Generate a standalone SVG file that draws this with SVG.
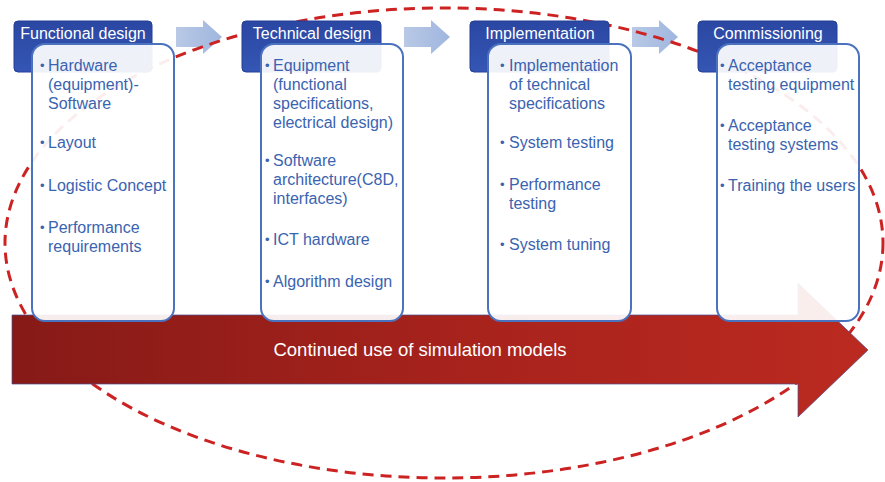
<svg xmlns="http://www.w3.org/2000/svg" width="885" height="482" viewBox="0 0 885 482">
<defs>
<linearGradient id="hdr" x1="0" y1="0" x2="0" y2="1"><stop offset="0" stop-color="#2a47a2"/><stop offset="1" stop-color="#3556b4"/></linearGradient>
<linearGradient id="blu" x1="0" y1="0" x2="1" y2="0"><stop offset="0" stop-color="#b9c9e6"/><stop offset="1" stop-color="#9fb6de"/></linearGradient>
<linearGradient id="red" x1="0" y1="0" x2="1" y2="0"><stop offset="0" stop-color="#861a17"/><stop offset="0.5" stop-color="#a6221c"/><stop offset="1" stop-color="#bb2a20"/></linearGradient>
<style>
.hdr{fill:url(#hdr);stroke:#243f98;stroke-width:1}
.hdrt{font-family:"Liberation Sans",Arial,sans-serif;font-size:16px;fill:#ffffff;text-anchor:middle}
.box{fill:#ffffff;fill-opacity:0.92;stroke:#4a72bf;stroke-width:2}
.t{font-family:"Liberation Sans",Arial,sans-serif;font-size:16px;fill:#3a63b0}
.b{font-family:"Liberation Sans",Arial,sans-serif;font-size:13px;fill:#3a63b0}
.arr{fill:url(#blu)}
</style>
</defs>
<rect width="885" height="482" fill="#ffffff"/>
<g id="connectors">
<path class="arr" d="M176,27 H203 V20 L222,37 L203,54 V47 H176 Z"/>
<path class="arr" d="M404,27 H431 V20 L450,37 L431,54 V47 H404 Z"/>
<path class="arr" d="M632,27 H659 V20 L678,37 L659,54 V47 H632 Z"/>
<ellipse id="loop" cx="444" cy="243" rx="439" ry="235" fill="none" stroke="#cc2222" stroke-width="3" stroke-dasharray="11 7"/>
<g id="simarrow">
<path d="M12,315 H798 V283 L868,350 L798,417 V384 H12 Z" fill="url(#red)" stroke="#4a4f8e" stroke-width="1" stroke-opacity="0.7"/>
<text x="420" y="356" font-family="Liberation Sans,Arial,sans-serif" font-size="18.5" fill="#ffffff" text-anchor="middle">Continued use of simulation models</text>
</g>
</g>
<g id="functional">
<rect class="hdr" x="14" y="21" width="138" height="51" rx="4"/>
<text class="hdrt" x="83" y="39">Functional design</text>
<rect class="box" x="32" y="44" width="142" height="277" rx="13"/>
<text class="b" x="40" y="70">•</text><text class="t" x="48" y="71">Hardware</text>
<text class="t" x="48" y="90">(equipment)-</text>
<text class="t" x="48" y="109">Software</text>
<text class="b" x="40" y="147">•</text><text class="t" x="48" y="148">Layout</text>
<text class="b" x="40" y="190">•</text><text class="t" x="48" y="191">Logistic Concept</text>
<text class="b" x="40" y="232">•</text><text class="t" x="48" y="233">Performance</text>
<text class="t" x="48" y="252">requirements</text>
</g>
<g id="technical">
<rect class="hdr" x="242" y="21" width="139" height="51" rx="4"/>
<text class="hdrt" x="312" y="39">Technical design</text>
<rect class="box" x="261" y="44" width="142" height="277" rx="13"/>
<text class="b" x="265" y="70">•</text><text class="t" x="273" y="71">Equipment</text>
<text class="t" x="273" y="90">(functional</text>
<text class="t" x="273" y="109">specifications,</text>
<text class="t" x="273" y="128">electrical design)</text>
<text class="b" x="265" y="165">•</text><text class="t" x="273" y="166">Software</text>
<text class="t" x="273" y="185">architecture(C8D,</text>
<text class="t" x="273" y="204">interfaces)</text>
<text class="b" x="265" y="244">•</text><text class="t" x="273" y="245">ICT hardware</text>
<text class="b" x="265" y="286">•</text><text class="t" x="273" y="287">Algorithm design</text>
</g>
<g id="implementation">
<rect class="hdr" x="470" y="21" width="139" height="51" rx="4"/>
<text class="hdrt" x="540" y="39">Implementation</text>
<rect class="box" x="488" y="44" width="143" height="277" rx="13"/>
<text class="b" x="500" y="70">•</text><text class="t" x="509" y="71">Implementation</text>
<text class="t" x="509" y="90">of technical</text>
<text class="t" x="509" y="109">specifications</text>
<text class="b" x="500" y="147">•</text><text class="t" x="509" y="148">System testing</text>
<text class="b" x="500" y="189">•</text><text class="t" x="509" y="190">Performance</text>
<text class="t" x="509" y="209">testing</text>
<text class="b" x="500" y="249">•</text><text class="t" x="509" y="250">System tuning</text>
</g>
<g id="commissioning">
<rect class="hdr" x="698" y="21" width="139" height="51" rx="4"/>
<text class="hdrt" x="768" y="39">Commissioning</text>
<rect class="box" x="717" y="44" width="142" height="277" rx="13"/>
<text class="b" x="720" y="70">•</text><text class="t" x="728" y="71">Acceptance</text>
<text class="t" x="728" y="90">testing equipment</text>
<text class="b" x="720" y="130">•</text><text class="t" x="728" y="131">Acceptance</text>
<text class="t" x="728" y="150">testing systems</text>
<text class="b" x="720" y="190">•</text><text class="t" x="728" y="191">Training the users</text>
</g>
</svg>
